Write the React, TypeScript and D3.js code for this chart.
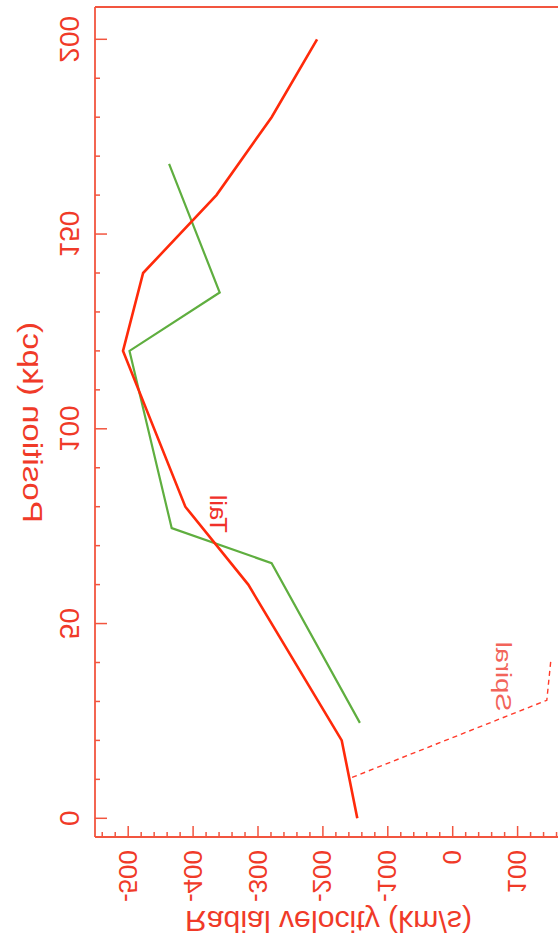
import React from "react";
import * as d3 from "d3";

// Series: Position (kpc) vs Radial velocity (km/s)
const tailPosition = [0, 20, 60, 80, 120, 140, 160, 180, 200];
const tailVelocity = [-147, -171, -315, -412, -508, -477, -364, -279, -209];

const greenPosition = [24.5, 65.5, 74.5, 120, 135, 168];
const greenVelocity = [-143, -279, -433, -498, -359, -437];

const spiralPosition = [10.5, 30.3, 40.2];
const spiralVelocity = [-155, 145, 151];

const xMajorTicks = [0, 50, 100, 150, 200];
const yMajorTicks = [-500, -400, -300, -200, -100, 0, 100];
const xMinorTicks = d3.range(0, 201, 10);
const yMinorTicks = d3.range(-540, 161, 20);

const xTitle = "Position (kpc)";
const yTitle = "Radial velocity (km/s)";
const tailLabel = "Tail";
const spiralLabel = "Spiral";

const W = 558;
const H = 944;

export default function App() {
  // chart drawn in its natural orientation, then anti-transposed to match the reference
  const x = d3.scaleLinear().domain([0, 200]).range([125.7, 904.7]);
  const y = d3.scaleLinear().domain([-500, 100]).range([429.8, 40.4]);

  const frameLeft = 107;
  const frameRight = 937;
  const frameBottom = 463;
  const frameTop = 0;

  const line = d3
    .line<[number, number]>()
    .x((d) => x(d[0]))
    .y((d) => y(d[1]));

  const tail = line(tailPosition.map((p, i) => [p, tailVelocity[i]]) as [number, number][]);
  const green = line(greenPosition.map((p, i) => [p, greenVelocity[i]]) as [number, number][]);
  const spiral = line(spiralPosition.map((p, i) => [p, spiralVelocity[i]]) as [number, number][]);

  const axisColor = "#f2553f";
  const textColor = "#f03a28";
  const font = "'Liberation Sans', Arial, Helvetica, sans-serif";

  return (
    <svg
      width={W}
      height={H}
      style={{ position: "absolute", left: 0, top: 0, background: "#fff" }}
    >
      <rect x={0} y={0} width={W} height={H} fill="#fff" />
      <g transform={`matrix(0,-1,-1,0,${W},${H})`}>
        {/* frame */}
        <line x1={frameLeft} x2={frameLeft} y1={frameBottom} y2={frameTop} stroke={axisColor} strokeWidth={1.8} />
        <line x1={frameLeft} x2={frameRight} y1={frameBottom} y2={frameBottom} stroke={axisColor} strokeWidth={1.8} />
        <line x1={frameRight} x2={frameRight} y1={frameBottom} y2={frameTop} stroke={axisColor} strokeWidth={1.8} />

        {/* x ticks */}
        {xMinorTicks.map((t) => (
          <line key={"xm" + t} x1={x(t)} x2={x(t)} y1={frameBottom} y2={frameBottom - (xMajorTicks.includes(t) ? 12 : 5)} stroke={axisColor} strokeWidth={1.5} />
        ))}
        {/* y ticks */}
        {yMinorTicks.map((t) => (
          <line key={"ym" + t} x1={frameLeft} x2={frameLeft + (yMajorTicks.includes(t) ? 11 : 5)} y1={y(t)} y2={y(t)} stroke={axisColor} strokeWidth={1.5} />
        ))}

        {/* tick labels */}
        {xMajorTicks.map((t) => (
          <text key={"xl" + t} x={x(t)} y={498} textAnchor="middle" fontSize={28} fontFamily={font} fill={textColor}>
            {t}
          </text>
        ))}
        {yMajorTicks.map((t) => (
          <text key={"yl" + t} x={94} y={y(t) + 9.5} textAnchor="end" fontSize={26} fontFamily={font} fill={textColor}>
            {t}
          </text>
        ))}

        {/* titles */}
        <text x={521.5} y={535} textAnchor="middle" fontSize={28} fontFamily={font} fill={textColor} textLength={201} lengthAdjust="spacingAndGlyphs">
          {xTitle}
        </text>
        <text transform={`translate(33,229.5) rotate(-90)`} textAnchor="middle" fontSize={30} fontFamily={font} fill={textColor} textLength={287} lengthAdjust="spacingAndGlyphs">
          {yTitle}
        </text>

        {/* data */}
        <path d={spiral || ""} fill="none" stroke="#ff3a2a" strokeWidth={1.4} strokeDasharray="5,4" />
        <path d={green || ""} fill="none" stroke="#5fae3f" strokeWidth={2.2} strokeLinejoin="miter" />
        <path d={tail || ""} fill="none" stroke="#ff2a0a" strokeWidth={2.6} strokeLinejoin="miter" />

        {/* labels */}
        <text x={x(73.3)} y={y(-374)} fontSize={24} fontFamily={font} fill="#f0302a" textLength={38} lengthAdjust="spacingAndGlyphs">
          {tailLabel}
        </text>
        <text x={x(27.4)} y={y(66.7)} fontSize={22} fontFamily={font} fill="#f2645a" textLength={70} lengthAdjust="spacingAndGlyphs">
          {spiralLabel}
        </text>
      </g>
    </svg>
  );
}
